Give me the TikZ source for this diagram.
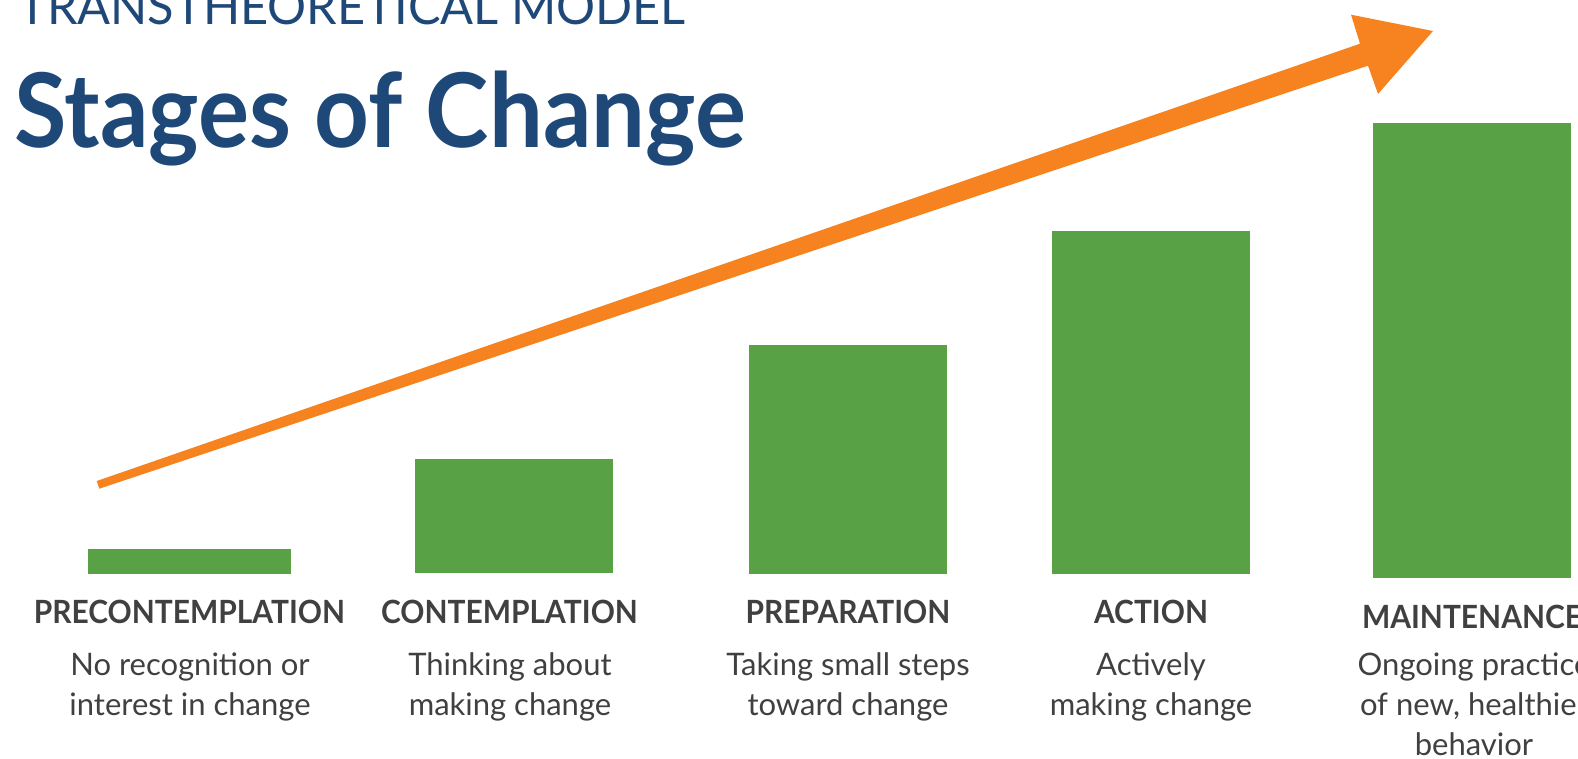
\documentclass[tikz,border=0pt]{standalone}
\usepackage{fontspec}
\setmainfont{Lato}
\newfontfamily\titlefont[FakeStretch=0.928]{Lato}
\newfontfamily\subfont[FakeStretch=0.975]{Lato}
\newfontfamily\labelfont[FakeStretch=0.935]{Lato}
\definecolor{barg}{RGB}{88,162,69}
\definecolor{arrowo}{RGB}{246,130,32}
\definecolor{titleb}{RGB}{30,72,120}
\definecolor{txtg}{RGB}{64,64,64}
\tikzset{
  barbox/.style={fill=barg, inner sep=0pt, outer sep=0pt},
  stagelabel/.style={anchor=base, inner sep=0pt, text=txtg, font=\labelfont\bfseries\fontsize{32}{32}\selectfont},
  stagedesc/.style={anchor=base, inner sep=0pt, text=txtg, align=center, font=\fontsize{31}{40}\selectfont},
}
\begin{document}
\begin{tikzpicture}[x=1pt,y=-1pt]
\useasboundingbox (0,0) rectangle (1578,758);
\clip (0,0) rectangle (1578,758);
% titles
\node[anchor=base west, inner sep=0pt, text=titleb, font=\subfont\fontsize{50}{50}\selectfont] (sub) at (18,24) {TRANSTHEORETICAL MODEL};
\node[anchor=base west, inner sep=0pt, text=titleb, font=\titlefont\bfseries\fontsize{103}{103}\selectfont] (title) at (14,147) {Stages of Change};
% arrow
\fill[arrowo] (96.7,481) -- (1360,43.7) -- (1351,14.7) -- (1433,31) -- (1378,94) -- (1368,65.7) -- (99.3,488.7) -- cycle;
% bars
\node[barbox, minimum width=203pt, minimum height=25pt] (b1) at (189.5,561.5) {};
\node[barbox, minimum width=198pt, minimum height=114pt] (b2) at (514,516) {};
\node[barbox, minimum width=198pt, minimum height=229pt] (b3) at (848,459.5) {};
\node[barbox, minimum width=198pt, minimum height=343pt] (b4) at (1151,402.5) {};
\node[barbox, minimum width=198pt, minimum height=455pt] (b5) at (1472,350.5) {};
% labels
\node[stagelabel] (l1) at (189.5,623.5) {PRECONTEMPLATION};
\node[stagelabel] (l2) at (509.5,623.5) {CONTEMPLATION};
\node[stagelabel] (l3) at (848,623.5) {PREPARATION};
\node[stagelabel] (l4) at (1151,623.5) {ACTION};
\node[stagelabel] (l5) at (1472,628) {MAINTENANCE};
% descriptions (anchor at baseline of last line)
\node[stagedesc] (d1) at (190,715) {No recognition or\\interest in change};
\node[stagedesc] (d2) at (510,715) {Thinking about\\making change};
\node[stagedesc] (d3) at (848,715) {Taking small steps\\toward change};
\node[stagedesc] (d4) at (1151,715) {Actively\\making change};
\node[stagedesc] (d5) at (1474,755) {Ongoing practice\\of new, healthier\\behavior};
\end{tikzpicture}
\end{document}
